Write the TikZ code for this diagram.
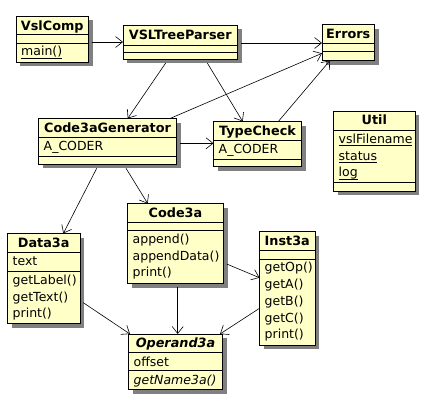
\documentclass[tikz,border=0pt]{standalone}
\usepackage{fontspec}
\setmainfont{DejaVu Sans}
\usetikzlibrary{arrows.meta,shadows}

\definecolor{classfill}{RGB}{255,255,200}
\definecolor{shadowgray}{RGB}{128,128,128}

% underline drawn at a fixed depth below the baseline (static members)
\newcommand\staticmember[1]{\setbox0\hbox{#1}\rlap{\rule[-2.8pt]{\wd0}{0.8pt}}\box0}
% one separator line across a class box, #2 pt below its top edge
\newcommand\compline[2]{\draw[boxline] ([yshift=-#2pt]#1.north west) -- ([yshift=-#2pt]#1.north east);}
% class name, centred, baseline #3 pt below the top edge
\newcommand\classname[4]{\node[ttl] (#1) at ([yshift=-#3pt]#2.north) {#4};}
% attribute or operation, left aligned, baseline #3 pt below the top edge
\newcommand\member[4]{\node[mbr] (#1) at ([xshift=5pt,yshift=-#3pt]#2.north west) {#4};}

\tikzset{
  classbox/.style={draw, line width=1pt, fill=classfill, anchor=north west,
    inner sep=0pt, outer sep=0pt,
    drop shadow={shadow xshift=4pt, shadow yshift=-4pt, fill=shadowgray, opacity=1}},
  boxline/.style={line width=1pt},
  ttl/.style={inner sep=0pt, anchor=base, font=\fontsize{12.8}{15}\selectfont\bfseries},
  mbr/.style={inner sep=0pt, anchor=base west, font=\fontsize{12.5}{15}\selectfont},
  dep/.style={line width=0.6pt, -{Straight Barb[length=7pt,width=11pt,line width=0.6pt]}}
}

\begin{document}
\begin{tikzpicture}[x=1pt,y=-1pt]
\useasboundingbox (0,0) rectangle (431,405);

% ---- class boxes ----
\node[classbox, minimum width=72.5pt, minimum height=46pt]   (vslcomp) at (16,16) {};
\node[classbox, minimum width=114.5pt, minimum height=34pt]  (vtp)     at (123,25) {};
\node[classbox, minimum width=52.5pt, minimum height=36pt]   (errors)  at (322,24.5) {};
\node[classbox, minimum width=138pt, minimum height=45.5pt]  (gen)     at (38.5,118.5) {};
\node[classbox, minimum width=88pt, minimum height=45pt]     (tc)      at (213.5,121.5) {};
\node[classbox, minimum width=81.5pt, minimum height=80pt]   (util)    at (333.5,111) {};
\node[classbox, minimum width=96pt, minimum height=80pt]     (code)    at (127.5,203.5) {};
\node[classbox, minimum width=72.5pt, minimum height=90pt]   (data)    at (7.5,233.5) {};
\node[classbox, minimum width=55.5pt, minimum height=113.5pt] (inst)   at (259.5,231.5) {};
\node[classbox, minimum width=94pt, minimum height=55.5pt]   (operand) at (128.5,334) {};

% ---- compartments ----
\compline{vslcomp}{18}   \compline{vslcomp}{27}
\compline{vtp}{20.5}     \compline{vtp}{27.5}
\compline{errors}{19}    \compline{errors}{26.5}
\compline{gen}{19}       \compline{gen}{38}
\compline{tc}{18.5}      \compline{tc}{37.8}
\compline{util}{19}      \compline{util}{71.7}
\compline{code}{18.8}    \compline{code}{26.5}
\compline{data}{18.8}    \compline{data}{37.5}
\compline{inst}{18.5}    \compline{inst}{27.5}
\compline{operand}{18.7} \compline{operand}{36}

% ---- names ----
\classname{vslcomp-n}{vslcomp}{14}{VslComp}
\classname{vtp-n}{vtp}{14}{VSLTreeParser}
\classname{errors-n}{errors}{13.5}{Errors}
\classname{gen-n}{gen}{13.5}{Code3aGenerator}
\classname{tc-n}{tc}{13.5}{TypeCheck}
\classname{util-n}{util}{13.5}{Util}
\classname{code-n}{code}{13.5}{Code3a}
\classname{data-n}{data}{13.8}{Data3a}
\classname{inst-n}{inst}{13.5}{Inst3a}
\classname{operand-n}{operand}{13.5}{\textit{Operand3a}}

% ---- members ----
\member{vslcomp-m1}{vslcomp}{39.5}{\staticmember{main()}}
\member{gen-a1}{gen}{32.2}{A\_CODER}
\member{tc-a1}{tc}{31.8}{A\_CODER}
\member{util-a1}{util}{32.3}{\staticmember{vslFilename}}
\member{util-a2}{util}{49}{\staticmember{status}}
\member{util-a3}{util}{65.7}{\staticmember{log}}
\member{code-m1}{code}{39.8}{append()}
\member{code-m2}{code}{56.5}{appendData()}
\member{code-m3}{code}{73.2}{print()}
\member{data-a1}{data}{32.2}{text}
\member{data-m1}{data}{50.8}{getLabel()}
\member{data-m2}{data}{67.5}{getText()}
\member{data-m3}{data}{84.2}{print()}
\member{inst-m1}{inst}{40.2}{getOp()}
\member{inst-m2}{inst}{57}{getA()}
\member{inst-m3}{inst}{73.8}{getB()}
\member{inst-m4}{inst}{90.5}{getC()}
\member{inst-m5}{inst}{107.3}{print()}
\member{operand-a1}{operand}{32}{offset}
\member{operand-m1}{operand}{50}{\textit{getName3a()}}

% ---- dependencies ----
\draw[dep] ([xshift=3pt,yshift=-26pt]vslcomp.north east) -- ([yshift=-17pt]vtp.north west);
\draw[dep] ([xshift=3pt,yshift=-18pt]vtp.north east) -- ([yshift=-18.5pt]errors.north west);
\draw[dep] ([xshift=42.7pt,yshift=-4pt]vtp.south west) -- ([xshift=89.2pt]gen.north west);
\draw[dep] ([xshift=84.3pt,yshift=-4pt]vtp.south west) -- ([xshift=29.2pt]tc.north west);
\draw[dep] ([xshift=131.5pt]gen.north west) -- ([yshift=-28.8pt]errors.north west);
\draw[dep] ([xshift=64.8pt]tc.north west) -- ([xshift=8pt]errors.south west);
\draw[dep] ([xshift=3.5pt,yshift=-24.8pt]gen.north east) -- ([yshift=-21.8pt]tc.north west);
\draw[dep] ([xshift=58.2pt,yshift=-4.3pt]gen.south west) -- ([xshift=55.8pt]data.north west);
\draw[dep] ([xshift=87.5pt,yshift=-4.3pt]gen.south west) -- ([xshift=20.2pt]code.north west);
\draw[dep] ([xshift=3.2pt,yshift=-60.5pt]code.north east) -- ([yshift=-46.2pt]inst.north west);
\draw[dep] ([xshift=50.2pt,yshift=-3.2pt]code.south west) -- ([xshift=49.2pt]operand.north west);
\draw[dep] ([xshift=3.3pt,yshift=-69.2pt]data.north east) -- ([xshift=1.5pt]operand.north west);
\draw[dep] ([yshift=-76.8pt]inst.north west) -- ([xshift=-2.5pt]operand.north east);
\end{tikzpicture}
\end{document}
